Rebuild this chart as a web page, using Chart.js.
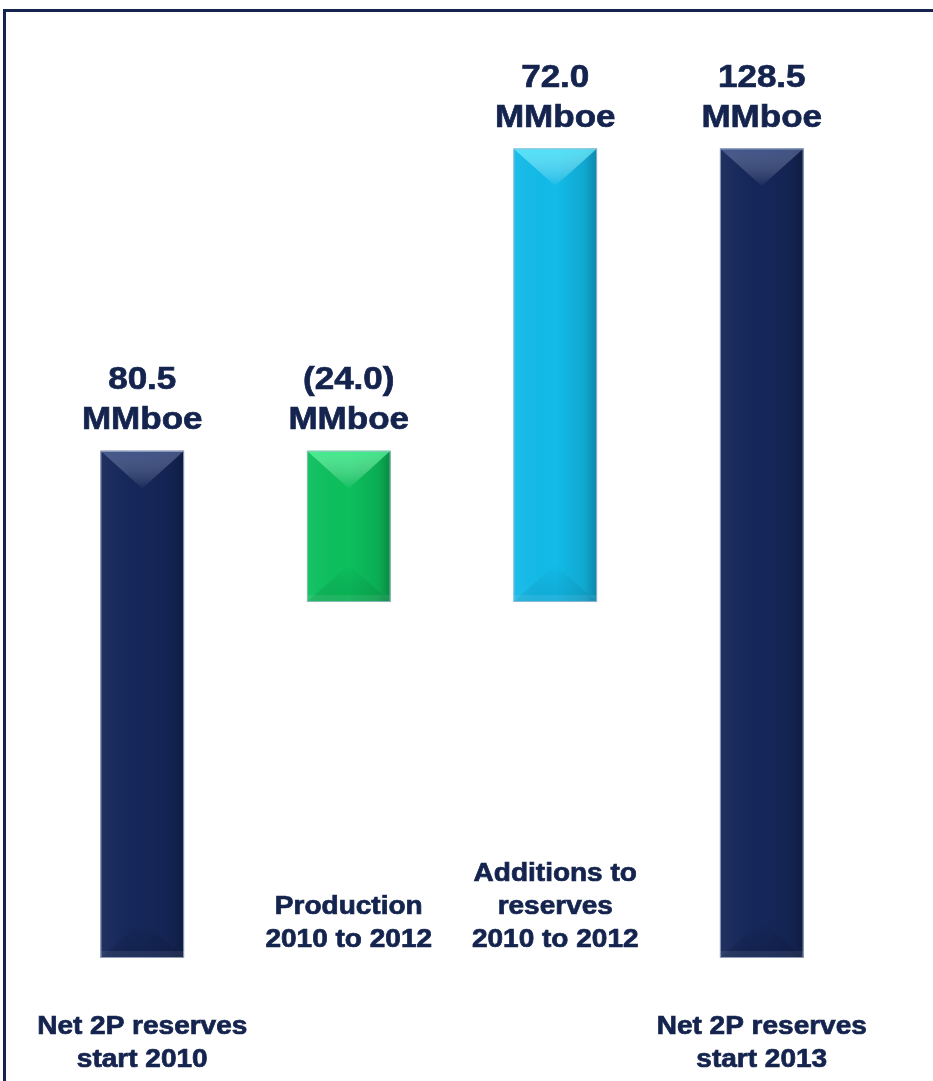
<!DOCTYPE html>
<html lang="en">
<head>
    <meta charset="UTF-8">
    <title>Net 2P reserves</title>
    <style>
        html, body { margin: 0; padding: 0; background: #fff; overflow: hidden; }
        .frame {
            position: absolute; left: 3px; top: 9px;
            width: 1000px; height: 1200px;
            border: 3px solid #14244e;
        }
        #waterfall { position: absolute; left: 0; top: 0; }
    </style>
</head>
<body>
    <div class="frame"></div>
    <canvas id="waterfall" width="933" height="1081"></canvas>

    <script src="https://cdn.jsdelivr.net/npm/chart.js@4.4.1/dist/chart.umd.min.js"></script>
    <script>
    // reserves walk, MMboe
    var categories = [
        ['Net 2P reserves', 'start 2010'],
        ['Production', '2010 to 2012'],
        ['Additions to', 'reserves', '2010 to 2012'],
        ['Net 2P reserves', 'start 2013']
    ];
    var values = [80.5, -24.0, 72.0, 128.5];
    var kinds = ['total', 'step', 'step', 'total'];
    var unit = 'MMboe';

    var navy = '#14244e';
    var palette = {
        navy:  { base: '#15275a', light: 'rgba(110,130,185,0.5)', dark: 'rgba(5,12,35,0.18)' },
        green: { base: '#0cc05d', light: 'rgba(90,255,160,0.7)', dark: 'rgba(0,80,30,0.15)' },
        cyan:  { base: '#12bbe8', light: 'rgba(100,240,255,0.75)', dark: 'rgba(0,70,110,0.12)' }
    };
    var barStyles = [palette.navy, palette.green, palette.cyan, palette.navy];

    // turn the walk into floating [from, to] ranges
    function buildRanges() {
        var out = [], running = 0;
        for (var i = 0; i < values.length; i++) {
            if (kinds[i] === 'total') {
                out.push([0, values[i]]);
                running = values[i];
            } else {
                out.push([running, running + values[i]]);
                running += values[i];
            }
        }
        return out;
    }

    function valueText(v) {
        var s = Math.abs(v).toFixed(1);
        return v < 0 ? '(' + s + ')' : s;
    }

    // text drawn a little wide and heavy, like the deck's Arial Bold
    function stretchedText(ctx, text, x, y, sx) {
        ctx.save();
        ctx.translate(x, y);
        ctx.scale(sx, 1);
        ctx.fillText(text, 0, 0);
        ctx.strokeText(text, 0, 0);
        ctx.restore();
    }

    // bevelled look on top of the flat bars
    var bevelPlugin = {
        id: 'bevel',
        afterDatasetsDraw: function (chart) {
            var ctx = chart.ctx;
            chart.getDatasetMeta(0).data.forEach(function (bar, i) {
                var p = bar.getProps(['x', 'y', 'base', 'width'], true);
                var l = p.x - p.width / 2, r = p.x + p.width / 2;
                var t = Math.min(p.y, p.base), b = Math.max(p.y, p.base);
                var w = p.width, st = barStyles[i];
                var depth = Math.min(w * 0.45, (b - t) / 2);
                ctx.save();

                // side shading: lighter left, darker right
                var g = ctx.createLinearGradient(l, 0, r, 0);
                g.addColorStop(0, 'rgba(255,255,255,0.05)');
                g.addColorStop(0.5, 'rgba(0,0,0,0)');
                g.addColorStop(0.85, 'rgba(0,0,0,0.1)');
                g.addColorStop(1, 'rgba(0,0,0,0.28)');
                ctx.fillStyle = g;
                ctx.fillRect(l, t, w, b - t);

                // top facet
                var gt = ctx.createLinearGradient(0, t, 0, t + depth);
                gt.addColorStop(0, st.light);
                gt.addColorStop(1, 'rgba(255,255,255,0.02)');
                ctx.fillStyle = gt;
                ctx.beginPath();
                ctx.moveTo(l, t); ctx.lineTo(r, t); ctx.lineTo(p.x, t + depth); ctx.closePath();
                ctx.fill();

                // bottom facet
                var gb = ctx.createLinearGradient(0, b - depth, 0, b);
                gb.addColorStop(0, 'rgba(0,0,0,0)');
                gb.addColorStop(1, st.dark);
                ctx.fillStyle = gb;
                ctx.beginPath();
                ctx.moveTo(l, b); ctx.lineTo(r, b); ctx.lineTo(p.x, b - depth); ctx.closePath();
                ctx.fill();

                // faint light strip along the foot
                ctx.fillStyle = 'rgba(255,255,255,0.08)';
                ctx.fillRect(l, b - 7, w, 7);

                // thin light rim
                ctx.strokeStyle = 'rgba(170,185,210,0.8)';
                ctx.lineWidth = 1;
                ctx.strokeRect(l + 0.5, t + 0.5, w - 1, b - t - 1);
                ctx.restore();
            });
        }
    };

    // value labels above bars, category labels under / inside the walk
    var labelPlugin = {
        id: 'walkLabels',
        afterDraw: function (chart) {
            var ctx = chart.ctx, area = chart.chartArea;
            ctx.save();
            ctx.fillStyle = navy;
            ctx.strokeStyle = navy;
            ctx.lineWidth = 0.7;
            ctx.textAlign = 'center';
            ctx.textBaseline = 'middle';
            chart.getDatasetMeta(0).data.forEach(function (bar, i) {
                var p = bar.getProps(['x', 'y', 'base'], true);
                var top = Math.min(p.y, p.base);

                ctx.font = 'bold 31px "Liberation Sans", Arial, sans-serif';
                stretchedText(ctx, valueText(values[i]), p.x, top - 70, 1.13);
                stretchedText(ctx, unit, p.x, top - 30, 1.13);

                var lines = categories[i], lh = 33;
                ctx.font = 'bold 25px "Liberation Sans", Arial, sans-serif';
                var y0 = kinds[i] === 'total'
                    ? area.bottom + 69
                    : area.bottom - 18 - (lines.length - 1) * lh;
                lines.forEach(function (line, k) {
                    stretchedText(ctx, line, p.x, y0 + k * lh, 1.12);
                });
            });
            ctx.restore();
        }
    };

    new Chart(document.getElementById('waterfall'), {
        type: 'bar',
        data: {
            labels: categories.map(function (c) { return c.join(' '); }),
            datasets: [{
                data: buildRanges(),
                backgroundColor: barStyles.map(function (s) { return s.base; }),
                borderWidth: 0,
                barPercentage: 0.405,
                categoryPercentage: 1
            }]
        },
        options: {
            responsive: false,
            animation: false,
            layout: { padding: { top: 13, bottom: 123, left: 39, right: 68 } },
            plugins: { legend: { display: false }, tooltip: { enabled: false } },
            scales: {
                x: { display: false },
                y: { display: false, min: 0, max: 150 }
            }
        },
        plugins: [bevelPlugin, labelPlugin]
    });
    </script>
</body>
</html>
